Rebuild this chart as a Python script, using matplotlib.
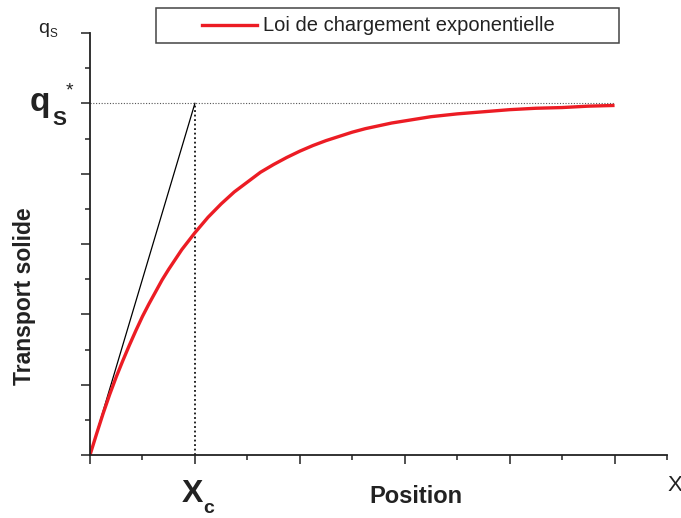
import matplotlib
matplotlib.use("Agg")
import matplotlib.pyplot as plt
from matplotlib.patches import Rectangle
from matplotlib.lines import Line2D
from matplotlib.ticker import MultipleLocator

plt.rcParams['font.family'] = ['Liberation Sans', 'DejaVu Sans']

# Data
position = [0, 0.125, 0.25, 0.375, 0.5, 0.625, 0.75, 0.875, 1, 1.125, 1.25, 1.375,
            1.5, 1.625, 1.75, 1.875, 2, 2.25, 2.5, 2.75, 3, 3.25, 3.5, 3.75, 4,
            4.25, 4.5, 4.75, 5, 5.25, 5.5, 5.75, 6, 6.5, 7, 7.5, 8, 8.5, 9, 9.5, 10]
transport = [0, 0.30, 0.59, 0.86, 1.11, 1.34, 1.56, 1.77, 1.97, 2.15, 2.32, 2.49,
             2.64, 2.78, 2.92, 3.04, 3.16, 3.38, 3.57, 3.74, 3.88, 4.02, 4.13, 4.23,
             4.32, 4.40, 4.47, 4.53, 4.59, 4.64, 4.68, 4.72, 4.75, 4.81, 4.85, 4.88,
             4.91, 4.93, 4.94, 4.96, 4.97]
qs_star = 5.0
xc = 2.0
x_end = 10.0
legend_label = "Loi de chargement exponentielle"

W, H = 681, 518
fig = plt.figure(figsize=(W / 100, H / 100), dpi=100)
ax = fig.add_axes([90 / W, (H - 455) / H, (667 - 90) / W, (455 - 33) / H])
ax.set_xlim(0, 11)
ax.set_ylim(0, 6)

axc = '#222222'
for s in ['top', 'right']:
    ax.spines[s].set_visible(False)
for s in ['left', 'bottom']:
    ax.spines[s].set_linewidth(1.3)
    ax.spines[s].set_color(axc)

ax.xaxis.set_major_locator(MultipleLocator(2))
ax.xaxis.set_minor_locator(MultipleLocator(1))
ax.yaxis.set_major_locator(MultipleLocator(1))
ax.yaxis.set_minor_locator(MultipleLocator(0.5))
ax.tick_params(which='major', direction='out', length=6.5, width=1.1, color=axc,
               labelbottom=False, labelleft=False)
ax.tick_params(which='minor', direction='out', length=3.8, width=1.1, color=axc)

# reference lines
ax.plot([0, x_end], [qs_star, qs_star], linestyle=(0, (1, 1.5)), color='#555555', lw=0.8)
ax.plot([xc, xc], [0, qs_star], linestyle=(0, (1, 1.5)), color='#111111', lw=1.3)
ax.plot([0, xc], [0, qs_star], color='black', lw=0.9)

red = '#ec1c24'
ax.plot(position, transport, color=red, lw=2.4, solid_capstyle='butt',
        solid_joinstyle='round')

# legend box (manual)
fig.patches.append(Rectangle((156 / W, 1 - 43 / H), (619 - 156) / W, 35 / H,
                             transform=fig.transFigure, fill=False,
                             edgecolor='#444444', lw=1.1))
fig.lines.append(Line2D([202 / W, 257 / W], [1 - 25 / H, 1 - 25 / H],
                        transform=fig.transFigure, color=red, lw=2.4))
fig.text(263 / W, 1 - 25.5 / H, legend_label, fontsize=14.5, color='#222222',
         ha='left', va='center')

tc = '#222222'
# axis annotations
fig.text(38 / W, 1 - 33 / H, 'q', fontsize=14, color=tc, ha='left', va='baseline')
fig.text(50 / W, 1 - 37 / H, 'S', fontsize=8.5, color=tc, ha='left', va='baseline')

fig.text(30 / W, 1 - 111 / H, 'q', fontsize=24, fontweight='bold', color=tc,
         ha='left', va='baseline')
fig.text(52 / W, 1 - 125 / H, 'S', fontsize=15, fontweight='bold', color=tc,
         ha='left', va='baseline')
fig.text(66 / W, 1 - 95 / H, '*', fontsize=14, color=tc, ha='left', va='baseline')

fig.text(182 / W, 1 - 502 / H, 'X', fontsize=23, fontweight='bold', color=tc,
         ha='left', va='baseline')
fig.text(203 / W, 1 - 513 / H, 'c', fontsize=14, fontweight='bold', color=tc,
         ha='left', va='baseline')

fig.text(667 / W, 1 - 491 / H, 'X', fontsize=16, color=tc, ha='left', va='baseline')

fig.text(416 / W, 1 - 503 / H, 'Position', fontsize=17, fontweight='bold', color=tc,
         ha='center', va='baseline')
fig.text(25 / W, 1 - 296 / H, 'Transport solide', fontsize=16.5, fontweight='bold',
         color=tc, rotation=90, ha='center', va='center')

fig.savefig('out.png', dpi=100)
